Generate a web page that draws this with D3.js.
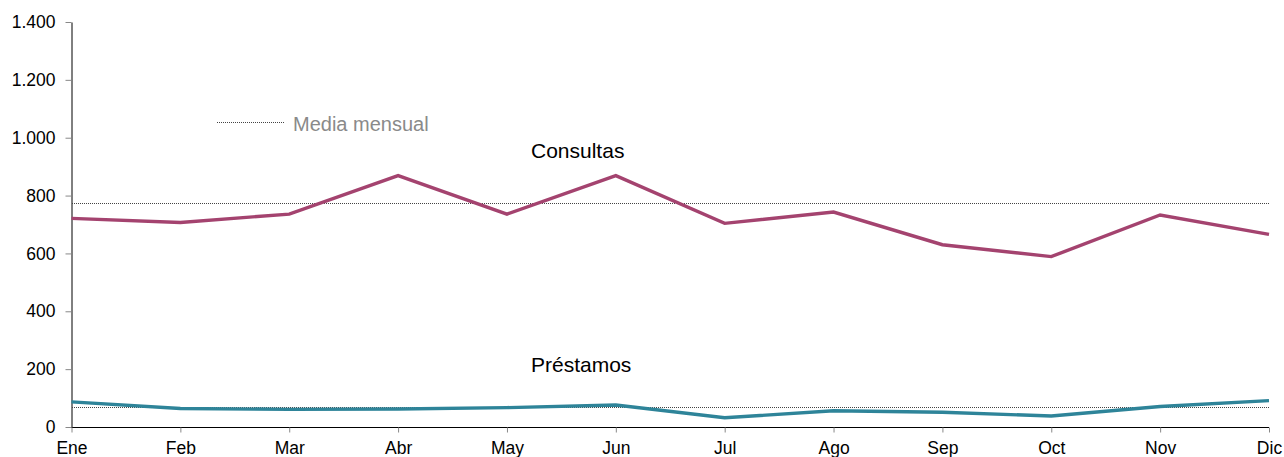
<!DOCTYPE html>
<html><head><meta charset="utf-8">
<script src="https://cdn.jsdelivr.net/npm/d3@7"></script>
<style>body{margin:0;background:#fff}svg{display:block;font-family:"Liberation Sans",Arial,sans-serif}</style>
</head><body><svg id="c" width="1284" height="457"></svg>
<script>
const months = ["Ene","Feb","Mar","Abr","May","Jun","Jul","Ago","Sep","Oct","Nov","Dic"];
const consultas = [721,707,736,869,736,869,704,743,630,589,733,666];
const prestamos = [87,64,61,62,67,76,32,56,51,38,71,91];
const mediaConsultas = 773;
const mediaPrestamos = 68;
const yTicks = [0,200,400,600,800,1000,1200,1400];

const svg = d3.select("#c");
const x = d3.scalePoint().domain(months).range([71.5,1269]);
const y = d3.scaleLinear().domain([0,1400]).range([427,22]);
const fmt = v => d3.format(",")(v).replace(/,/g,".");

const yAxis = svg.append("g").attr("transform","translate(71.5,0)")
  .call(d3.axisLeft(y).tickValues(yTicks).tickSize(6).tickSizeOuter(0).tickPadding(10).tickFormat(fmt));
yAxis.select(".domain").attr("stroke","#000");
yAxis.selectAll(".tick line").attr("stroke","#888");
yAxis.selectAll(".tick text").attr("font-size",17.5).attr("fill","#000").attr("font-family","Liberation Sans, Arial, sans-serif");

const xAxis = svg.append("g").attr("transform","translate(0,427.5)")
  .call(d3.axisBottom(x).tickSize(5).tickSizeOuter(0).tickPadding(9));
xAxis.select(".domain").attr("stroke","#000").attr("d","M71.5,0H1269");
xAxis.selectAll(".tick line").attr("stroke","#888");
xAxis.selectAll(".tick text").attr("font-size",17.5).attr("fill","#000").attr("font-family","Liberation Sans, Arial, sans-serif");

// media lines
[mediaConsultas, mediaPrestamos].forEach(m => {
  svg.append("line").attr("x1",72).attr("x2",1269).attr("y1",Math.round(y(m))+0.5).attr("y2",Math.round(y(m))+0.5)
    .attr("stroke","#444").attr("stroke-width",1).attr("stroke-dasharray","1,1");
});

const line = d3.line().x((d,i)=>x(months[i])).y(d=>y(d));
svg.append("path").datum(consultas).attr("d",line).attr("fill","none").attr("stroke","#a4436f").attr("stroke-width",3.4).attr("stroke-linejoin","miter");
svg.append("path").datum(prestamos).attr("d",line).attr("fill","none").attr("stroke","#2e8499").attr("stroke-width",3.4).attr("stroke-linejoin","miter");

// labels
svg.append("text").attr("x",531).attr("y",158).attr("font-size",21).attr("fill","#000").text("Consultas");
svg.append("text").attr("x",531).attr("y",372).attr("font-size",21).attr("fill","#000").text("Préstamos");

// legend
svg.append("line").attr("x1",217).attr("x2",285).attr("y1",122.5).attr("y2",122.5).attr("stroke","#444").attr("stroke-dasharray","1,1");
svg.append("text").attr("x",293).attr("y",131).attr("font-size",20).attr("fill","#8a8a8a").text("Media mensual");
</script></body></html>
